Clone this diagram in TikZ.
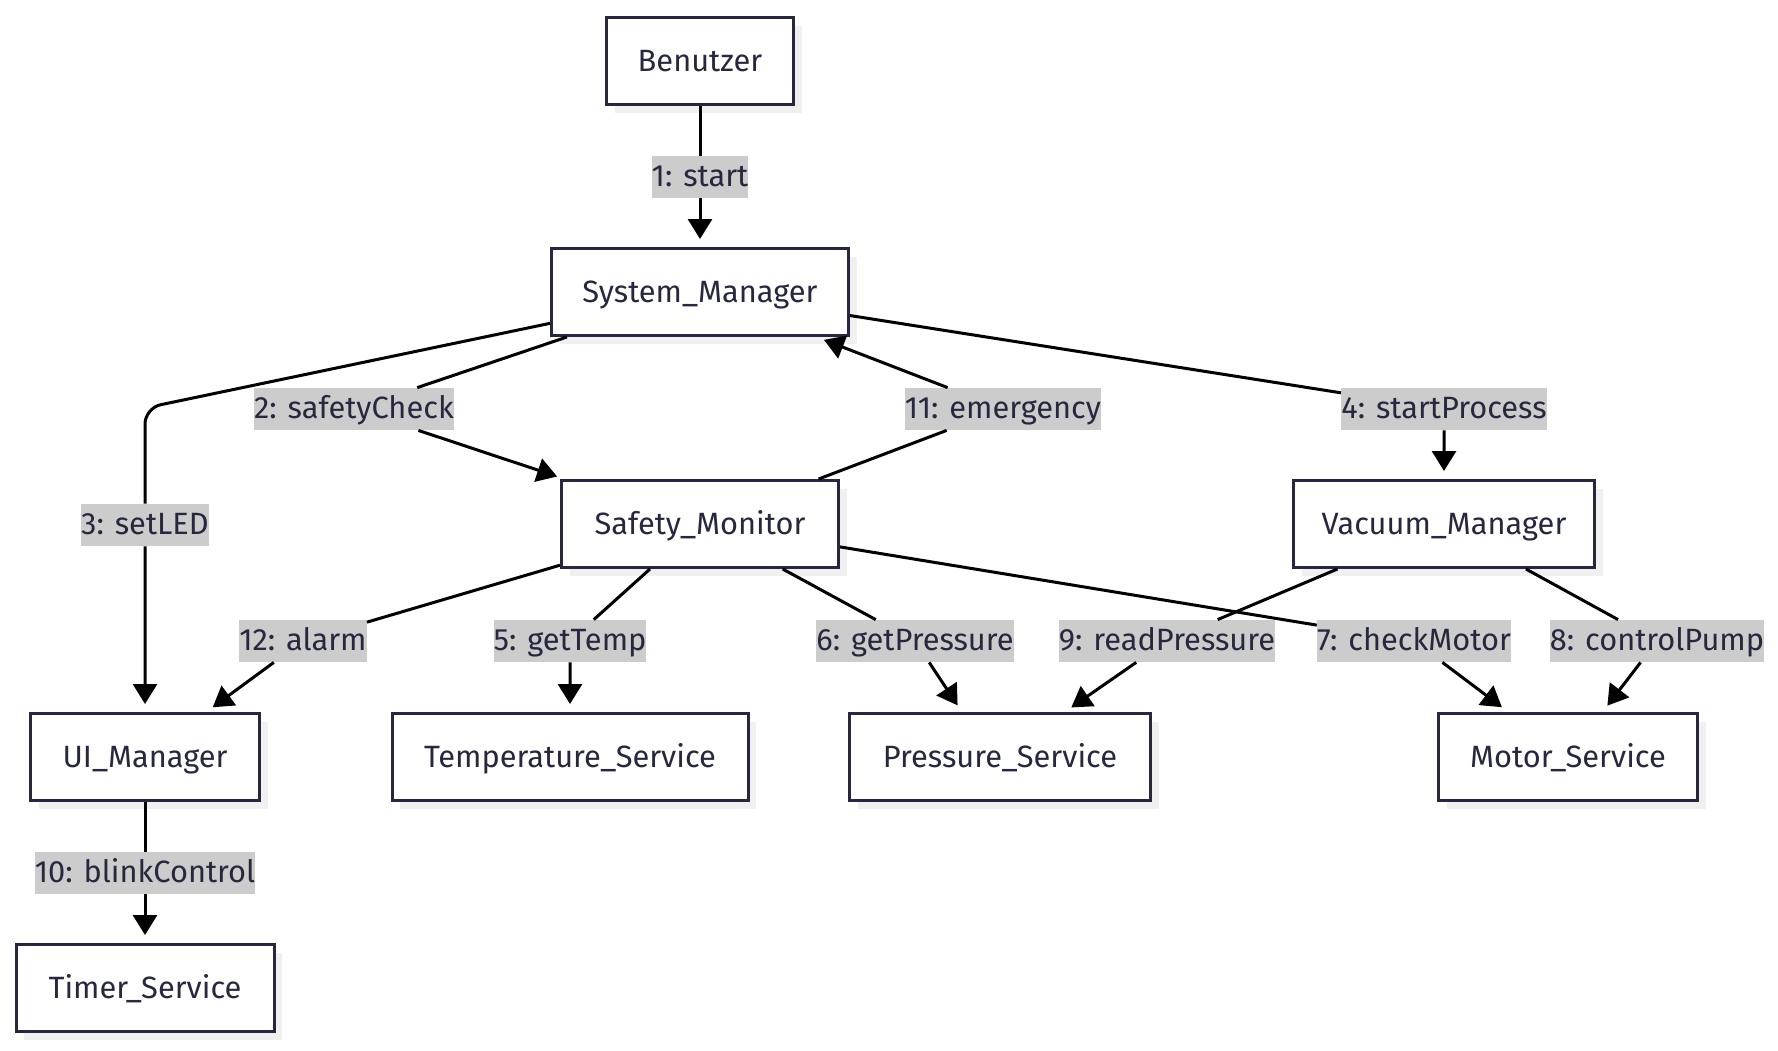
\documentclass[tikz,border=0pt]{standalone}
\usepackage{fontspec}
\setmainfont{Fira Sans}
\usetikzlibrary{arrows.meta,shadows,calc}
\definecolor{boxline}{HTML}{27273D}
\definecolor{lblfill}{HTML}{CCCCCC}
\definecolor{shade}{HTML}{F0F0F0}

\begin{document}
\begin{tikzpicture}[x=0.5pt,y=-0.5pt,
		box/.style={draw=boxline, line width=1.5pt, fill=white, minimum height=43.5pt, inner sep=0pt, text height=10.6pt, text depth=0pt, text=boxline, font=\fontsize{15.4}{18}\selectfont, general shadow={fill=shade, shadow xshift=4pt, shadow yshift=-4pt}},
		lbl/.style={fill=lblfill, inner sep=0pt, text height=15pt, text depth=6pt, text=boxline, font=\fontsize{15.4}{18}\selectfont},
		flow/.style={line width=1.5pt, -{Triangle[length=10pt,width=12pt]}, shorten >=4pt}]
		\useasboundingbox (0,0) rectangle (1778,1050);
		\node [box, minimum width=93.5pt] (ben) at (700,61) {Benutzer};
		\node [box, minimum width=148.5pt] (sm) at (700,292) {System\_Manager};
		\node [box, minimum width=138.5pt] (safm) at (700,524) {Safety\_Monitor};
		\node [box, minimum width=150.5pt] (vm) at (1444,524) {Vacuum\_Manager};
		\node [box, minimum width=114.5pt] (ui) at (145,757) {UI\_Manager};
		\node [box, minimum width=178pt] (temp) at (570,757) {Temperature\_Service};
		\node [box, minimum width=150.5pt] (press) at (1000,757) {Pressure\_Service};
		\node [box, minimum width=129.5pt] (motor) at (1568,757) {Motor\_Service};
		\node [box, minimum width=129pt] (timer) at (145,988) {Timer\_Service};
		\node [lbl] (l1) at (700,177) {1: start};
		\node [lbl] (l2) at (354,409) {2: safetyCheck};
		\node [lbl] (l3) at (145,525) {3: setLED};
		\node [lbl] (l4) at (1444,409) {4: startProcess};
		\node [lbl] (l5) at (570,641) {5: getTemp};
		\node [lbl] (l6) at (915,641) {6: getPressure};
		\node [lbl] (l7) at (1414,641) {7: checkMotor};
		\node [lbl] (l8) at (1657,641) {8: controlPump};
		\node [lbl] (l9) at (1167,641) {9: readPressure};
		\node [lbl] (l10) at (145,873) {10: blinkControl};
		\node [lbl] (l11) at (1003,409) {11: emergency};
		\node [lbl] (l12) at (303,641) {12: alarm};
		\coordinate (c3) at (145,408);
		\draw [flow] (ben) -- (l1) -- (sm);
		\draw [flow] (sm) -- (l2) -- (safm);
		\draw [flow, rounded corners=8pt] (sm) -- (c3) -- (l3) -- (ui);
		\draw [flow] (sm) -- (l4) -- (vm);
		\draw [flow] (safm) -- (l5) -- (temp);
		\draw [flow] (safm) -- (l6) -- ($(press.north)+(-38,0)$);
		\draw [flow] (safm) -- (l7) -- (motor);
		\draw [flow] (vm) -- (l8) -- (motor);
		\draw [flow] (vm) -- (l9) -- (press);
		\draw [flow] (ui) -- (l10) -- (timer);
		\draw [flow] (safm) -- (l11) -- (sm);
		\draw [flow] (safm) -- (l12) -- (ui);
\end{tikzpicture}
\end{document}
